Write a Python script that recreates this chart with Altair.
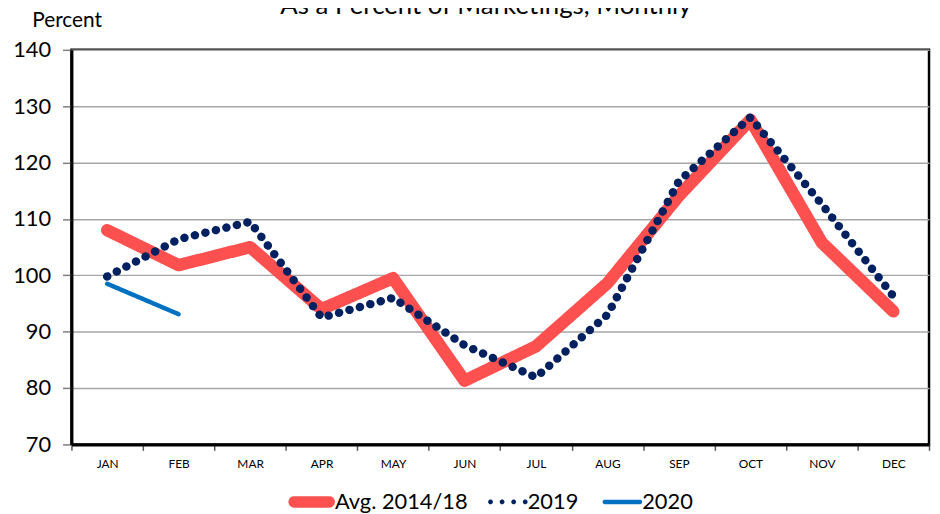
import math
import altair as alt
import pandas as pd

months = ["JAN", "FEB", "MAR", "APR", "MAY", "JUN", "JUL", "AUG", "SEP", "OCT", "NOV", "DEC"]
avg_1418 = [108.0, 101.8, 105.0, 94.0, 99.5, 81.3, 87.4, 98.6, 114.1, 127.6, 105.8, 93.6]
y2019 = [99.8, 106.4, 109.5, 92.5, 96.0, 87.6, 81.9, 93.0, 116.7, 128.0, 112.6, 96.3]
y2020 = [98.5, 93.1]
series_names = ["Avg. 2014/18", "2019", "2020"]
series_colors = ["#FF5050", "#002060", "#0070C0"]
title_text = "As a Percent of Marketings, Monthly"

rows = []
for name, vals in zip(series_names, [avg_1418, y2019, y2020]):
    for m, v in zip(months, vals):
        rows.append({"month": m, "value": v, "series": name})
df = pd.DataFrame(rows)

FONT = "Lato"

x_enc = alt.X("month:O", sort=months, title=None,
              axis=alt.Axis(labelAngle=0, labelFontSize=12, labelFont=FONT, labelColor="black",
                            tickBand="extent", tickSize=6, tickColor="#595959", tickWidth=1.5,
                            labelPadding=8, domainColor="black", domainWidth=3, grid=False))
y_enc = alt.Y("value:Q", scale=alt.Scale(domain=[70, 140], nice=False, zero=False),
              axis=alt.Axis(values=[70, 80, 90, 100, 110, 120, 130, 140], labelFontSize=22,
                            labelFont=FONT, labelColor="black", tickSize=9, tickColor="#7F7F7F",
                            tickWidth=1.5, labelPadding=12, domainColor="black", domainWidth=3,
                            gridColor="#A6A6A6", gridWidth=1.5,
                            title="Percent", titleAngle=0, titleAlign="left",
                            titleBaseline="alphabetic", titleX=-40, titleY=-24,
                            titleFont=FONT, titleFontSize=21, titleFontWeight="normal",
                            titleColor="black"))

lines = alt.Chart(df).mark_line(strokeCap="round", strokeJoin="round").encode(
    x=x_enc,
    y=y_enc,
    color=alt.Color("series:N", sort=series_names,
                    scale=alt.Scale(domain=series_names, range=series_colors), legend=None),
    strokeWidth=alt.StrokeWidth("series:N", sort=series_names,
                                scale=alt.Scale(domain=series_names, range=[12.5, 4.5, 4.5]),
                                legend=None),
    strokeDash=alt.StrokeDash("series:N", sort=series_names,
                              scale=alt.Scale(domain=series_names, range=[[1, 0], [0.1, 10.8], [1, 0]]),
                              legend=None),
)


# ---- legend symbol shapes (unit square coordinates, -1..1) ----
def fmt(v):
    return f"{v:.4f}"


def stadium_path(t, n=8):
    """Horizontal bar with rounded ends; half-thickness t (units), full length 2."""
    pts = []
    cx_r, cx_l = 1 - t, -1 + t
    for i in range(n + 1):  # right semicircle, top -> bottom
        a = -math.pi / 2 + math.pi * i / n
        pts.append((cx_r + t * math.cos(a), t * math.sin(a)))
    for i in range(n + 1):  # left semicircle, bottom -> top
        a = math.pi / 2 + math.pi * i / n
        pts.append((cx_l + t * math.cos(a), t * math.sin(a)))
    return "M" + "L".join(f"{fmt(x)},{fmt(y)}" for x, y in pts) + "Z"


def dots_path(centers, r, n=10):
    parts = []
    for c in centers:
        pts = [(c + r * math.cos(2 * math.pi * i / n), r * math.sin(2 * math.pi * i / n)) for i in range(n)]
        parts.append("M" + "L".join(f"{fmt(x)},{fmt(y)}" for x, y in pts) + "Z")
    return " ".join(parts)


# name, color, path, symbol length (px), legendX, legendY
legend_specs = [
    (series_names[0], series_colors[0], stadium_path(5.8 / 23.5), 47, 218.8, 432.5),
    (series_names[1], series_colors[1], dots_path([-0.875, -0.292, 0.292, 0.875], 0.125), 40, 420.2, 436),
    (series_names[2], series_colors[2], stadium_path(2.3 / 20), 40, 535.7, 436),
]
legend_layers = []
for name, col, path, length, lx, ly in legend_specs:
    ldf = pd.DataFrame({"month": [months[0]], "value": [100.0], "series": [name]})
    layer = alt.Chart(ldf).transform_filter("false").mark_point(filled=True, strokeWidth=0).encode(
        x=alt.X("month:O", sort=months),
        y=alt.Y("value:Q"),
        color=alt.Color("series:N", scale=alt.Scale(domain=[name], range=[col]),
                        legend=alt.Legend(title=None, orient="none", legendX=lx, legendY=ly,
                                          direction="horizontal", symbolType=path,
                                          symbolSize=length * length, symbolStrokeWidth=0,
                                          symbolFillColor=col, symbolOpacity=1,
                                          labelFontSize=22, labelFont=FONT,
                                          labelColor="black", labelOffset=0)),
    )
    legend_layers.append(layer)

title_df = pd.DataFrame({"t": [title_text]})
title = alt.Chart(title_df).mark_text(font=FONT, fontSize=26, color="black", align="center",
                                      baseline="alphabetic").encode(
    x=alt.value(418), y=alt.value(-36), text="t:N")

chart = alt.layer(lines, *legend_layers, title).resolve_scale(
    color="independent"
).properties(
    width=865, height=398,
    autosize=alt.AutoSizeParams(type="none"),
    padding={"left": 64, "top": 40, "right": 3, "bottom": 68},
).configure_view(stroke="black", strokeWidth=2.5)

chart.save("out.html", embed_options={"renderer": "svg", "actions": False})
